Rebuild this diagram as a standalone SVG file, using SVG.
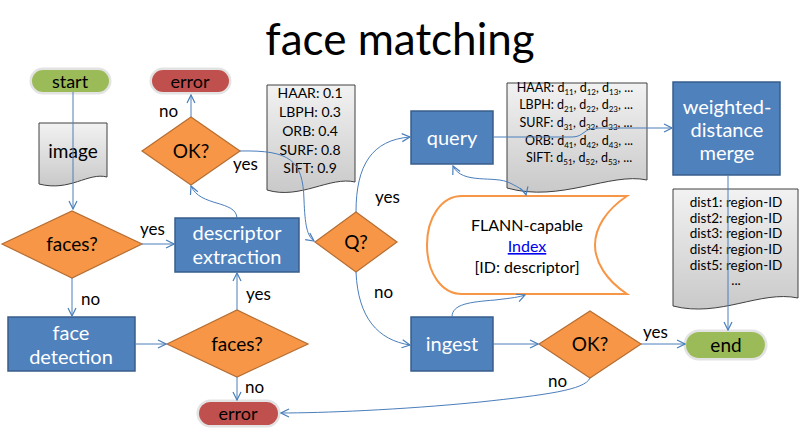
<svg xmlns="http://www.w3.org/2000/svg" width="800" height="429" viewBox="0 0 800 429">
<defs>
<linearGradient id="docg" x1="0" y1="0" x2="0" y2="1">
<stop offset="0" stop-color="#f2f2f2"/>
<stop offset="1" stop-color="#c9c9c9"/>
</linearGradient>
<marker id="arr" viewBox="0 0 10 10" refX="9" refY="5" markerWidth="10" markerHeight="10" markerUnits="userSpaceOnUse" orient="auto-start-reverse">
<path d="M1,1 L9,5 L1,9" fill="none" stroke="#4a7ebb" stroke-width="1.2"/>
</marker>
<style>
text{font-family:Lato,"Open Sans","Liberation Sans",sans-serif;}
.proc{fill:#4f81bd;stroke:#385d8a;stroke-width:1.5;}
.dec{fill:#f79646;stroke:#b66d31;stroke-width:1.2;}
.doc{fill:url(#docg);stroke:#404040;stroke-width:1;}
.green{fill:#9bbb59;}
.red{fill:#c0504d;}
.glow{fill:none;stroke:#e3e3e3;stroke-width:3;}
.wt{fill:#ffffff;font-size:20px;text-anchor:middle;}
.bt{fill:#000000;font-size:19px;text-anchor:middle;}
.lbl{fill:#000000;font-size:17px;}
.st{fill:#000000;font-size:14px;text-anchor:middle;}
.sd{fill:#000000;font-size:12.5px;text-anchor:middle;}
.sub{font-size:8px;}
.conn path{fill:none;stroke:#4a7ebb;stroke-width:1;}
</style>
</defs>
<rect width="800" height="429" fill="#ffffff"/>
<text x="400" y="55" style="font-size:44px;text-anchor:middle;fill:#000">face matching</text>

<g id="start">
<rect class="glow" x="31" y="69" width="79" height="24" rx="12"/>
<rect class="green" x="32" y="70" width="77" height="22" rx="11"/>
<text class="bt" x="70" y="88" style="font-size:18px">start</text>
</g>
<g id="error1">
<rect class="glow" x="151" y="69" width="79" height="24" rx="12"/>
<rect class="red" x="152" y="70" width="77" height="22" rx="11"/>
<text class="bt" x="190" y="88" style="font-size:18px">error</text>
</g>
<g id="image">
<path class="doc" d="M39,123 H107 V177 C88,172 70,192 39,184 Z"/>
<text class="bt" x="73" y="158">image</text>
</g>
<g id="faces1">
<polygon class="dec" points="2,244 72,211 142,244 72,278"/>
<text class="bt" x="72" y="251">faces?</text>
</g>
<g id="descriptor">
<rect class="proc" x="175" y="218" width="124" height="54"/>
<text class="wt" x="237" y="240">descriptor</text>
<text class="wt" x="237" y="264">extraction</text>
</g>
<g id="facedetection">
<rect class="proc" x="8" y="317" width="127" height="54"/>
<text class="wt" x="71" y="340">face</text>
<text class="wt" x="71" y="364">detection</text>
</g>
<g id="faces2">
<polygon class="dec" points="167,344 237,310 308,344 237,377"/>
<text class="bt" x="237" y="351">faces?</text>
</g>
<g id="error2">
<rect class="glow" x="198" y="401" width="81" height="25" rx="12.5"/>
<rect class="red" x="199" y="402" width="79" height="23" rx="11.5"/>
<text class="bt" x="238" y="420" style="font-size:18px">error</text>
</g>
<g id="ok1">
<polygon class="dec" points="142,151 191,117 240,151 191,185"/>
<text class="bt" x="191" y="158">OK?</text>
</g>
<g id="scores">
<path class="doc" d="M267,85 H355 V182 C330,176 300,200 267,190 Z"/>
<text class="st" x="310" y="98">HAAR: 0.1</text>
<text class="st" x="310" y="117">LBPH: 0.3</text>
<text class="st" x="310" y="136">ORB: 0.4</text>
<text class="st" x="310" y="155">SURF: 0.8</text>
<text class="st" x="310" y="173">SIFT: 0.9</text>
</g>
<g id="q">
<polygon class="dec" points="315,242 356,212 397,242 356,272"/>
<text class="bt" x="356" y="249">Q?</text>
</g>
<g id="query">
<rect class="proc" x="411" y="111" width="82" height="53"/>
<text class="wt" x="452" y="145">query</text>
</g>
<g id="distances">
<path class="doc" d="M507,83 H647 V180 C610,172 560,203 507,188 Z"/>
<text class="sd" x="575" y="92">HAAR: d<tspan class="sub" dy="3">11</tspan><tspan dy="-3">, d</tspan><tspan class="sub" dy="3">12</tspan><tspan dy="-3">, d</tspan><tspan class="sub" dy="3">13</tspan><tspan dy="-3">, ...</tspan></text>
<text class="sd" x="576" y="109">LBPH: d<tspan class="sub" dy="3">21</tspan><tspan dy="-3">, d</tspan><tspan class="sub" dy="3">22</tspan><tspan dy="-3">, d</tspan><tspan class="sub" dy="3">23</tspan><tspan dy="-3">, ...</tspan></text>
<text class="sd" x="576" y="127">SURF: d<tspan class="sub" dy="3">31</tspan><tspan dy="-3">, d</tspan><tspan class="sub" dy="3">32</tspan><tspan dy="-3">, d</tspan><tspan class="sub" dy="3">33</tspan><tspan dy="-3">, ...</tspan></text>
<text class="sd" x="579" y="145">ORB: d<tspan class="sub" dy="3">41</tspan><tspan dy="-3">, d</tspan><tspan class="sub" dy="3">42</tspan><tspan dy="-3">, d</tspan><tspan class="sub" dy="3">43</tspan><tspan dy="-3">, ...</tspan></text>
<text class="sd" x="579" y="162">SIFT: d<tspan class="sub" dy="3">51</tspan><tspan dy="-3">, d</tspan><tspan class="sub" dy="3">52</tspan><tspan dy="-3">, d</tspan><tspan class="sub" dy="3">53</tspan><tspan dy="-3">, ...</tspan></text>
</g>
<g id="merge">
<rect class="proc" x="673" y="82" width="107" height="93"/>
<text class="wt" x="727" y="114">weighted-</text>
<text class="wt" x="727" y="137">distance</text>
<text class="wt" x="727" y="160">merge</text>
</g>
<g id="results">
<path class="doc" d="M673,189 H798 V298 C760,290 720,318 673,306 Z"/>
<text class="st" x="736" y="207" style="font-size:13.5px">dist1: region-ID</text>
<text class="st" x="736" y="223" style="font-size:13.5px">dist2: region-ID</text>
<text class="st" x="736" y="238" style="font-size:13.5px">dist3: region-ID</text>
<text class="st" x="736" y="254" style="font-size:13.5px">dist4: region-ID</text>
<text class="st" x="736" y="270" style="font-size:13.5px">dist5: region-ID</text>
<text class="st" x="736" y="285" style="font-size:13.5px">...</text>
</g>
<g id="index">
<path d="M462,196 H627 C606,210 595,228 595,245 C595,262 606,280 627,294 H462 C441,294 427,272 427,245 C427,218 441,196 462,196 Z" fill="#ffffff" stroke="#f79646" stroke-width="2"/>
<text class="bt" x="527" y="231" style="font-size:16px">FLANN-capable</text>
<text class="bt" x="527" y="252" style="font-size:16px;fill:#0000ee;text-decoration:underline">Index</text>
<text class="bt" x="527" y="273" style="font-size:16px">[ID: descriptor]</text>
</g>
<g id="ingest">
<rect class="proc" x="411" y="317" width="82" height="54"/>
<text class="wt" x="452" y="351">ingest</text>
</g>
<g id="ok3">
<polygon class="dec" points="539,344 590,311 641,344 590,378"/>
<text class="bt" x="590" y="351">OK?</text>
</g>
<g id="end">
<rect class="glow" x="685" y="331" width="81" height="28" rx="14"/>
<rect class="green" x="686" y="332" width="79" height="26" rx="13"/>
<text class="bt" x="726" y="352" style="font-size:19px">end</text>
</g>

<g id="connectors" class="conn">
<path d="M73,92 V209" marker-end="url(#arr)"/>
<path d="M142,244 H174" marker-end="url(#arr)"/>
<path d="M72,278 V316" marker-end="url(#arr)"/>
<path d="M135,344 H166" marker-end="url(#arr)"/>
<path d="M237,310 V273" marker-end="url(#arr)"/>
<path d="M237,377 V400" marker-end="url(#arr)"/>
<path d="M237,218 C236,200 200,207 191,186" marker-end="url(#arr)"/>
<path d="M191,117 V95" marker-end="url(#arr)"/>
<path d="M240,151 C290,150 303,160 304,200 C305,225 307,236 314,241" marker-end="url(#arr)"/>
<path d="M356,212 C356,165 372,140 410,137" marker-end="url(#arr)"/>
<path d="M356,272 C358,318 378,340 410,345" marker-end="url(#arr)"/>
<path d="M453,166 C462,185 495,175 510,183 C520,188 525,191 526,195" marker-start="url(#arr)" marker-end="url(#arr)"/>
<path d="M493,137 H572 C584,137 584,128 596,128 H672" marker-end="url(#arr)"/>
<path d="M728,175 V330" marker-end="url(#arr)"/>
<path d="M452,317 C452,304 470,302 495,300 C512,298 520,297 525,295" marker-end="url(#arr)"/>
<path d="M493,344 H538" marker-end="url(#arr)"/>
<path d="M641,344 H685" marker-end="url(#arr)"/>
<path d="M590,378 C585,390 545,395 480,402 C400,410 320,413 281,413" marker-end="url(#arr)"/>
</g>

<g id="labels">
<text class="lbl" x="140" y="235">yes</text>
<text class="lbl" x="81" y="305">no</text>
<text class="lbl" x="246" y="300">yes</text>
<text class="lbl" x="245" y="393">no</text>
<text class="lbl" x="159" y="117">no</text>
<text class="lbl" x="233" y="170">yes</text>
<text class="lbl" x="375" y="203">yes</text>
<text class="lbl" x="374" y="298">no</text>
<text class="lbl" x="643" y="338">yes</text>
<text class="lbl" x="548" y="387">no</text>
</g>
</svg>
